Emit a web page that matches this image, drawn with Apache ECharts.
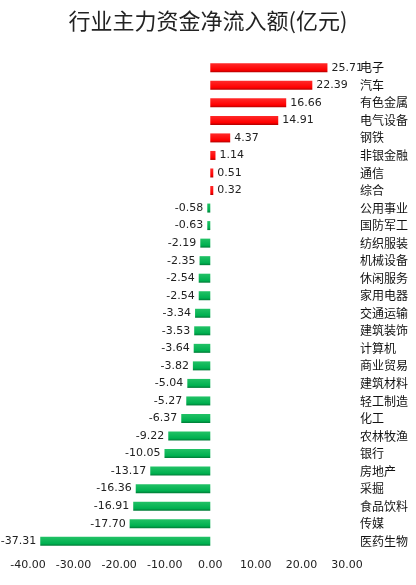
<!DOCTYPE html>
<html><head><meta charset="utf-8">
<script src="https://cdn.jsdelivr.net/npm/echarts@6/dist/echarts.min.js"></script>
<style>html,body{margin:0;padding:0;background:#fff}#c{width:416px;height:585px}</style>
</head><body><div id="c"></div>
<script>
const categories = ['电子','汽车','有色金属','电气设备','钢铁','非银金融','通信','综合','公用事业','国防军工','纺织服装','机械设备','休闲服务','家用电器','交通运输','建筑装饰','计算机','商业贸易','建筑材料','轻工制造','化工','农林牧渔','银行','房地产','采掘','食品饮料','传媒','医药生物'];
const values = [25.71,22.39,16.66,14.91,4.37,1.14,0.51,0.32,-0.58,-0.63,-2.19,-2.35,-2.54,-2.54,-3.34,-3.53,-3.64,-3.82,-5.04,-5.27,-6.37,-9.22,-10.05,-13.17,-16.36,-16.91,-17.70,-37.31];
const xTicks = [-40,-30,-20,-10,0,10,20,30];

const red = new echarts.graphic.LinearGradient(0,0,0,1,[{offset:0,color:'#ff2a2a'},{offset:0.75,color:'#ff0000'},{offset:1,color:'#b00000'}]);
const green = new echarts.graphic.LinearGradient(0,0,0,1,[{offset:0,color:'#22c266'},{offset:0.75,color:'#00b050'},{offset:1,color:'#007a36'}]);

const data = values.map(v => ({
  value: v,
  itemStyle: {color: v >= 0 ? red : green},
  label: {position: v >= 0 ? 'right' : 'left'}
}));

const chart = echarts.init(document.getElementById('c'));
chart.setOption({
  animation: false,
  title: {text: '行业主力资金净流入额(亿元)', left: 'center', top: 5,
    textStyle: {fontSize: 22, fontWeight: 'normal', color: '#222', fontFamily: 'Noto Sans CJK SC, serif'}},
  grid: {left: 28, right: 69, top: 59, bottom: 35},
  xAxis: {type: 'value', min: xTicks[0], max: xTicks[xTicks.length-1], interval: 10,
    splitLine: {show: false}, axisLine: {show: false}, axisTick: {show: false},
    axisLabel: {formatter: v => v.toFixed(2), color: '#222', fontSize: 11, fontFamily: 'DejaVu Sans', margin: 10}},
  yAxis: {type: 'category', data: categories, inverse: true, position: 'right',
    axisLine: {show: false}, axisTick: {show: false},
    axisLabel: {align: 'left', margin: 13, color: '#111', fontSize: 12, fontFamily: 'Noto Sans CJK SC'}},
  series: [{type: 'bar', data: data, barWidth: 9, barMinHeight: 3,
    label: {show: true, formatter: p => p.value.toFixed(2), color: '#222', fontSize: 11, fontFamily: 'DejaVu Sans', distance: 4}}]
});
</script></body></html>
